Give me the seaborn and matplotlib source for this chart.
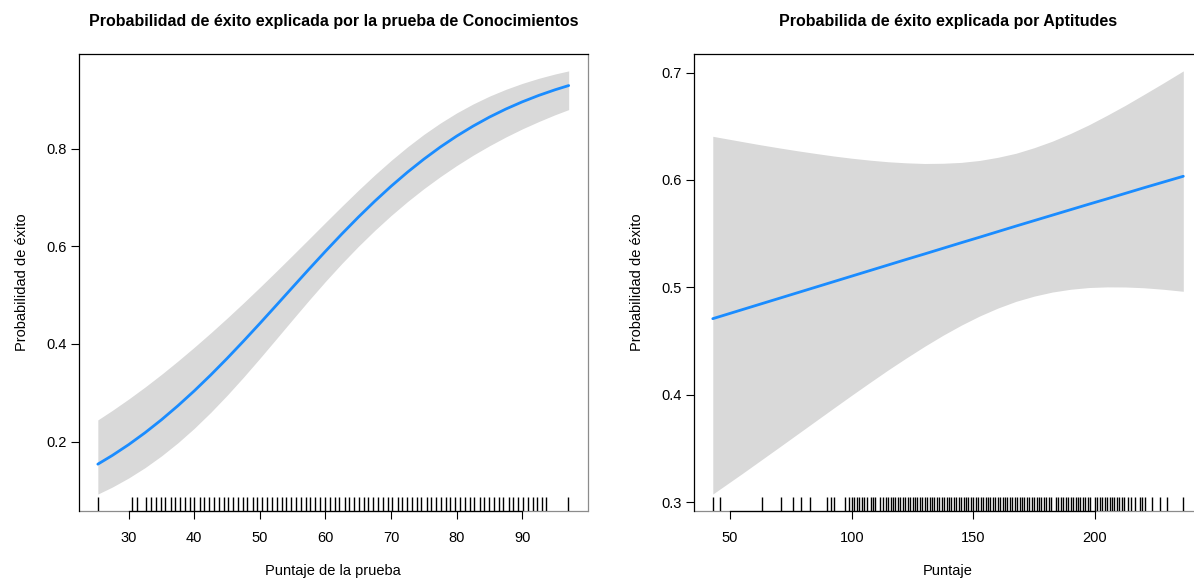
import numpy as np
import pandas as pd
import matplotlib
matplotlib.use("Agg")
import matplotlib.pyplot as plt
import seaborn as sns

# ---------------- data ----------------
# Panel 1: Conocimientos
con_x = [25.3, 27.5, 30, 32.5, 35, 37.5, 40, 42.5, 45, 47.5, 50, 52.5, 55,
         57.5, 60, 62.5, 65, 67.5, 70, 72.5, 75, 77.5, 80, 82.5, 85, 87.5,
         90, 92.5, 95, 97.07]
con_fit = [0.1540, 0.1718, 0.1940, 0.2184, 0.2449, 0.2735, 0.3040, 0.3364,
           0.3704, 0.4058, 0.4421, 0.4791, 0.5163, 0.5534, 0.5898, 0.6253,
           0.6595, 0.6921, 0.7229, 0.7517, 0.7784, 0.8031, 0.8256, 0.8460,
           0.8645, 0.8810, 0.8957, 0.9088, 0.9204, 0.9290]
con_upper = [0.2446, 0.2640, 0.2873, 0.3119, 0.3378, 0.3650, 0.3933, 0.4226,
             0.4529, 0.4841, 0.5161, 0.5487, 0.5818, 0.6152, 0.6488, 0.6820,
             0.7146, 0.7460, 0.7757, 0.8035, 0.8291, 0.8522, 0.8730, 0.8913,
             0.9074, 0.9213, 0.9334, 0.9438, 0.9527, 0.9590]
con_lower = [0.0928, 0.1071, 0.1257, 0.1469, 0.1709, 0.1977, 0.2274, 0.2599,
             0.2949, 0.3320, 0.3707, 0.4104, 0.4503, 0.4898, 0.5282, 0.5649,
             0.5997, 0.6324, 0.6630, 0.6915, 0.7180, 0.7425, 0.7653, 0.7864,
             0.8058, 0.8238, 0.8403, 0.8553, 0.8693, 0.8798]
con_rug = [25.4, 30.5, 31.2, 32.7, 33.4, 34.2, 34.9, 35.6, 36.4, 37.1, 37.8,
           38.6, 39.3, 40.0, 40.8, 41.5, 42.3, 43.0, 43.7, 44.5, 45.2, 45.9,
           46.7, 47.4, 48.1, 48.9, 49.6, 50.3, 51.1, 51.8, 52.6, 53.3, 54.0,
           54.8, 55.5, 56.2, 57.0, 57.7, 58.4, 59.2, 59.9, 60.7, 61.4, 62.1,
           62.9, 63.6, 64.3, 65.1, 65.8, 66.5, 67.3, 68.0, 68.7, 69.5, 70.2,
           71.0, 71.7, 72.4, 73.2, 73.9, 74.6, 75.4, 76.1, 76.8, 77.6, 78.3,
           79.0, 79.8, 80.5, 81.3, 82.0, 82.7, 83.5, 84.2, 84.9, 85.7, 86.4,
           87.1, 87.9, 88.6, 89.3, 90.1, 90.8, 91.6, 92.3, 93.0, 93.6, 97.0]
con_xticks = [30, 40, 50, 60, 70, 80, 90]
con_yticks = [0.2, 0.4, 0.6, 0.8]

# Panel 2: Aptitudes
apt_x = [42.9, 55, 62.5, 70, 77.5, 85, 92.5, 100, 107.5, 115, 122.5, 130,
         137.5, 145, 152.5, 160, 167.5, 175, 182.5, 190, 197.5, 205, 212.5,
         220, 228, 236.3]
apt_fit = [0.4708, 0.4792, 0.4844, 0.4896, 0.4948, 0.5000, 0.5052, 0.5104,
           0.5156, 0.5208, 0.5260, 0.5311, 0.5363, 0.5415, 0.5466, 0.5518,
           0.5570, 0.5621, 0.5672, 0.5723, 0.5774, 0.5824, 0.5875, 0.5926,
           0.5979, 0.6034]
apt_upper = [0.6406, 0.6357, 0.6327, 0.6299, 0.6272, 0.6247, 0.6223, 0.6202,
             0.6184, 0.6169, 0.6159, 0.6153, 0.6155, 0.6163, 0.6181, 0.6210,
             0.6248, 0.6300, 0.6361, 0.6433, 0.6513, 0.6602, 0.6695, 0.6794,
             0.6901, 0.7015]
apt_lower = [0.3075, 0.3266, 0.3387, 0.3508, 0.3630, 0.3752, 0.3874, 0.3995,
             0.4114, 0.4231, 0.4343, 0.4451, 0.4553, 0.4647, 0.4732, 0.4806,
             0.4869, 0.4918, 0.4956, 0.4982, 0.4998, 0.5004, 0.5003, 0.4996,
             0.4982, 0.4963]
# sparse (tails) and dense (core) observed scores
apt_rug_sparse = [42.9, 45.9, 63.0, 71.0, 76.0, 79.0, 82.9, 90.0, 91.4, 92.9,
                  97.2, 99.0, 100.0, 101.0, 102.1, 103.1, 104.1, 105.0, 106.2,
                  107.8, 108.6, 109.6, 111.5,
                  213.7, 215.0, 216.5, 218.3, 219.5, 220.5, 223.3, 226.7,
                  229.5, 236.3]
apt_rug_dense = [113, 114, 115, 116, 117, 118, 119, 120, 121, 122, 123, 124,
                 125, 126, 127, 128, 129, 130, 131, 132, 133, 134, 135, 136,
                 137, 138, 139, 140, 141, 142, 143, 144, 145, 146, 147, 148,
                 149, 150, 151, 152, 153, 154, 155, 156, 157, 158, 159, 160,
                 161, 162, 163, 164, 165, 166, 167, 168, 169, 170, 171, 172,
                 173, 174, 175, 176, 177, 178, 179, 180, 181, 182, 184, 185,
                 186, 187, 188, 189, 190, 191, 192, 193, 194, 195, 196, 197,
                 198, 200, 201, 202, 203, 204, 205, 206, 207, 208, 209, 210,
                 211, 212]
apt_xticks = [50, 100, 150, 200]
apt_yticks = [0.3, 0.4, 0.5, 0.6, 0.7]

titles = ["Probabilidad de éxito explicada por la prueba de Conocimientos",
          "Probabilida de éxito explicada por Aptitudes"]
xlabels = ["Puntaje de la prueba", "Puntaje"]
ylabel = "Probabilidad de éxito"

# ---------------- style ----------------
sns.set_theme(style="white")
plt.rcParams["font.family"] = ["Liberation Sans", "DejaVu Sans"]

BLUE = "#1A8CFF"
BAND = "#D9D9D9"
GREY = "#8C8C8C"

fig = plt.figure(figsize=(11.94, 5.81), dpi=100)
ax1 = fig.add_axes([0.06616, 0.1205, 0.4259, 0.7866])
ax2 = fig.add_axes([0.5812, 0.1205, 0.4256, 0.7866])

panels = [
    (ax1, con_x, con_fit, con_upper, con_lower, [(con_rug, 1.0)],
     con_xticks, con_yticks),
    (ax2, apt_x, apt_fit, apt_upper, apt_lower,
     [(apt_rug_sparse, 1.0), (apt_rug_dense, 1.8)],
     apt_xticks, apt_yticks),
]

for i, (ax, xs, fit, up, lo, rugs, xt, yt) in enumerate(panels):
    df = pd.DataFrame({"x": xs, "fit": fit, "upper": up, "lower": lo})
    ax.fill_between(df["x"], df["lower"], df["upper"], color=BAND, lw=0, zorder=1)
    sns.lineplot(data=df, x="x", y="fit", ax=ax, color=BLUE, lw=2.0, zorder=3,
                 sort=True, estimator=None)
    for rug, rlw in rugs:
        sns.rugplot(x=rug, ax=ax, height=0.03, color="black", lw=rlw,
                    expand_margins=False, zorder=2)

    # R-style 4% axis extension
    xr = max(xs) - min(xs)
    ax.set_xlim(min(xs) - 0.04 * xr, max(xs) + 0.04 * xr)
    yr = max(up) - min(lo)
    ax.set_ylim(min(lo) - 0.04 * yr, max(up) + 0.04 * yr)

    ax.set_xticks(xt)
    ax.set_yticks(yt)
    ax.set_xticklabels([f"{v:g}" for v in xt])
    ax.set_yticklabels([f"{v:.1f}" for v in yt])
    ax.tick_params(axis="both", which="both", direction="out", length=6,
                   width=0.8, color="black", labelsize=10.5,
                   bottom=True, left=True, labelcolor="black")
    ax.tick_params(axis="x", pad=8.5)
    ax.tick_params(axis="y", pad=2.5)

    for side in ["top", "left"]:
        ax.spines[side].set_color("black")
        ax.spines[side].set_linewidth(0.9)
    ax.spines["right"].set_color(GREY)
    ax.spines["right"].set_linewidth(0.9)
    ax.spines["bottom"].set_color("black")
    ax.spines["bottom"].set_linewidth(0.9)
    ax.spines["bottom"].set_bounds(xt[0], xt[-1])
    ax.plot([0, 1], [0, 0], transform=ax.transAxes, color=GREY, lw=0.9,
            clip_on=False, zorder=0.5)

    ax.set_xlabel(xlabels[i], fontsize=10.5, labelpad=13.5, color="black")
    ax.set_ylabel(ylabel, fontsize=10.5, labelpad=13, color="black")
    ax.set_title(titles[i], fontsize=11.5, fontweight="bold", pad=20.5,
                 color="black")
    ax.grid(False)

fig.savefig("out.png", dpi=100)
